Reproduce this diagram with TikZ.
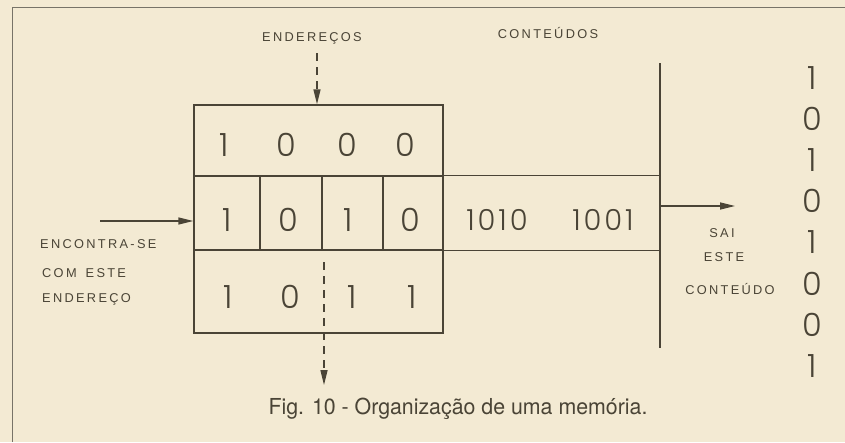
\documentclass[tikz,border=0pt]{standalone}
\usepackage{fontspec}
\usetikzlibrary{arrows.meta}
\setmainfont{Poppins}
\newfontfamily\digfont{Poppins Light}
\newfontfamily\digwide{Poppins Light}[LetterSpace=10]
\newfontfamily\lblfont{Liberation Sans}[LetterSpace=18]
\newfontfamily\capfont{TeX Gyre Heros}
\definecolor{ink}{HTML}{4A4436}
\definecolor{paper}{HTML}{F3EAD3}
\begin{document}
\begin{tikzpicture}[x=1pt,y=-1pt,
  cellbox/.style={draw=ink, line width=1.3pt, inner sep=0pt},
  bigdig/.style={font=\digfont\fontsize{32}{32}\selectfont, text=ink, inner sep=0pt},
  middig/.style={font=\digwide\fontsize{29}{29}\selectfont, text=ink, inner sep=0pt},
  lbl/.style={font=\lblfont\fontsize{12.8}{14}\selectfont, text=ink, inner sep=0pt},
  arr/.style={draw=ink, line width=1.3pt, -{Triangle[length=15pt,width=7pt]}},
  dsh/.style={arr, dash pattern=on 8pt off 6pt},
  rule/.style={draw=ink, line width=1.3pt}]
\fill[paper] (0,0) rectangle (845,442);
\useasboundingbox (0,0) rectangle (845,442);
% frame
\draw[draw=ink!75, line width=1pt] (12,442) -- (12,7) -- (845,7);
% memory box
\node[cellbox, minimum width=249pt, minimum height=71pt] (r1) at (318.5,140.5) {};
\node[cellbox, minimum width=66pt, minimum height=74pt] (c1) at (227,213) {};
\node[cellbox, minimum width=62pt, minimum height=74pt] (c2) at (291,213) {};
\node[cellbox, minimum width=61pt, minimum height=74pt] (c3) at (352.5,213) {};
\node[cellbox, minimum width=60pt, minimum height=74pt] (c4) at (413,213) {};
\node[cellbox, minimum width=249pt, minimum height=83pt] (r3) at (318.5,291.5) {};
% output bus
\coordinate (vt) at (660,63);
\coordinate (vb) at (660,348);
\draw[rule] (vt) -- (vb);
\draw[rule] (c4.north east) -- (c4.north east -| vt);
\draw[rule] (c4.south east) -- (c4.south east -| vt);
% digits row 1
\node[bigdig] (a1) at (224,145) {1};
\node[bigdig] (a2) at (286,145) {0};
\node[bigdig] (a3) at (347,145) {0};
\node[bigdig] (a4) at (405,145) {0};
% digits row 2
\node[bigdig] (b1) at (227,220) {1};
\node[bigdig] (b2) at (288,220) {0};
\node[bigdig] (b3) at (348,220) {1};
\node[bigdig] (b4) at (410,220) {0};
\node[middig] (b5) at (497,220) {1010};
\node[middig] (b6) at (603,220) {1001};
% digits row 3
\node[bigdig] (d1) at (228,297) {1};
\node[bigdig] (d2) at (290,297) {0};
\node[bigdig] (d3) at (352,297) {1};
\node[bigdig] (d4) at (412,297) {1};
% output column
\node[bigdig] (o1) at (812,78) {1};
\node[bigdig] (o2) at (812,119) {0};
\node[bigdig] (o3) at (812,160) {1};
\node[bigdig] (o4) at (812,201) {0};
\node[bigdig] (o5) at (812,242) {1};
\node[bigdig] (o6) at (812,284) {0};
\node[bigdig] (o7) at (812,325) {0};
\node[bigdig] (o8) at (812,366) {1};
% labels
\node[lbl] (end) at (312,38) {ENDEREÇOS};
\node[lbl] (cont) at (548,33) {CONTEÚDOS};
\node[lbl, anchor=west] (l1) at (40,244) {ENCONTRA-SE};
\node[lbl, anchor=west] (l2) at (42,273) {COM\hspace{9pt}ESTE};
\node[lbl, anchor=west] (l3) at (42,299) {ENDEREÇO};
\node[lbl] (s1) at (722,233) {SAI};
\node[lbl] (s2) at (724,257) {ESTE};
\node[lbl] (s3) at (730,289) {CONTEÚDO};
% arrows
\coordinate (la) at (100,221);
\draw[arr] (la) -- (la -| c1.west);
\coordinate (ra) at (735,206);
\draw[arr] (vt |- ra) -- (ra);
\coordinate (ta) at (317,53);
\draw[dsh] (ta) -- (ta |- r1.north);
\coordinate (ba0) at (324,262);
\coordinate (ba1) at (324,385);
\draw[dsh] (ba0) -- (ba1);
% caption
\node[font=\capfont\fontsize{22}{24}\selectfont, text=ink, inner sep=0pt] (cap) at (458,409) {\scalebox{0.97}[1]{Fig. 10 - Organização de uma memória.}};
\end{tikzpicture}
\end{document}
